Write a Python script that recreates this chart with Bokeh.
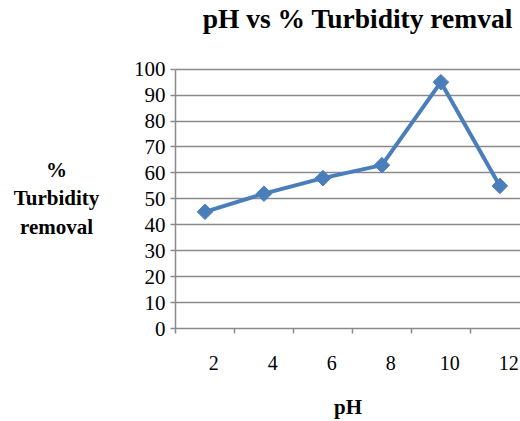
import math
from bokeh.plotting import figure
from bokeh.layouts import row
from bokeh.models import Range1d, LinearAxis, FixedTicker, Label
from bokeh.core.properties import value
from bokeh.embed import file_html
from bokeh.resources import INLINE

# ---- data ----
ph_labels = ["2", "4", "6", "8", "10", "12"]
removal = [45, 52, 58, 63, 95, 55]
y_ticks = list(range(0, 101, 10))
y_title = "%\nTurbidity\nremoval"
chart_title = "pH vs % Turbidity remval"

n = len(ph_labels)
x_centers = [i + 0.5 for i in range(n)]
x_bounds = list(range(n + 1))

FONT = "Liberation Serif"
AXIS_GRAY = "#8a8a8a"
BLUE = "#4a7ebb"
W = 520
H = 421
W_LEFT = 120
Y_MAX = 100
Y_TOP = 126.5   # headroom above the axis, where the title sits

# ---- left strip holding the horizontal y-axis title ----
lf = figure(width=W_LEFT, height=H, output_backend="svg", toolbar_location=None,
            x_range=Range1d(0, W_LEFT), y_range=Range1d(0, H),
            x_axis_type=None, y_axis_type=None,
            min_border=0, min_border_left=0, min_border_right=0,
            min_border_top=0, min_border_bottom=0)
lf.outline_line_color = None
lf.grid.visible = False
lf.text(x=[56], y=[167], text=[y_title], text_align="center",
        text_baseline="middle", text_font=value(FONT), text_font_size="21px",
        text_font_style="bold", text_color="black", text_line_height=1.2)

# ---- main chart ----
p = figure(width=W - W_LEFT, height=H, output_backend="svg", toolbar_location=None,
           title=None,
           x_range=Range1d(0, 5.85), y_range=Range1d(0, Y_TOP),
           x_axis_type=None,
           min_border_left=175 - W_LEFT, min_border_right=0, min_border_top=0,
           min_border_bottom=92)
p.outline_line_color = None
p.background_fill_color = "white"
p.border_fill_color = "white"

ya = p.yaxis[0]
ya.ticker = FixedTicker(ticks=y_ticks)
ya.bounds = (0, Y_MAX)
ya.axis_line_color = AXIS_GRAY
ya.axis_line_width = 1.5
ya.major_tick_line_color = AXIS_GRAY
ya.major_tick_line_width = 1.5
ya.major_tick_out = 5
ya.major_tick_in = 0
ya.minor_tick_line_color = None
ya.major_label_standoff = 5
ya.major_label_text_font = FONT
ya.major_label_text_font_size = "21px"
ya.major_label_text_color = "black"

p.ygrid.ticker = FixedTicker(ticks=y_ticks)
p.ygrid.grid_line_color = AXIS_GRAY
p.ygrid.grid_line_width = 1.5

label_pos = [c + 0.15 for c in x_centers]
xa = LinearAxis(ticker=FixedTicker(ticks=label_pos, minor_ticks=x_bounds),
                major_label_overrides={pos: lab for pos, lab in zip(label_pos, ph_labels)})
xa.axis_line_color = AXIS_GRAY
xa.axis_line_width = 1.5
xa.major_tick_line_color = None
xa.minor_tick_line_color = AXIS_GRAY
xa.minor_tick_line_width = 1.5
xa.minor_tick_out = 5
xa.minor_tick_in = 0
xa.major_tick_out = 5
xa.major_tick_in = 0
xa.major_label_standoff = 22
xa.major_label_text_font = FONT
xa.major_label_text_font_size = "20px"
xa.major_label_text_color = "black"
xa.axis_label = "pH"
xa.axis_label_text_font = FONT
xa.axis_label_text_font_size = "21px"
xa.axis_label_text_font_style = "bold"
xa.axis_label_text_color = "black"
xa.axis_label_standoff = 22
p.add_layout(xa, "below")

p.line(x_centers, removal, line_color=BLUE, line_width=4)
p.scatter(x_centers, removal, marker="square", angle=math.pi / 4, size=11,
          fill_color=BLUE, line_color=BLUE)

# chart title in the headroom above the 100 line
title = Label(x=0.46, y=119.6, x_units="data", y_units="data", text=chart_title,
              text_align="left", text_baseline="alphabetic", text_font=FONT,
              text_font_size="27.5px", text_font_style="bold", text_color="black")
p.add_layout(title)

layout = row(lf, p, spacing=0)
open("out.html", "w").write(file_html(layout, INLINE))
